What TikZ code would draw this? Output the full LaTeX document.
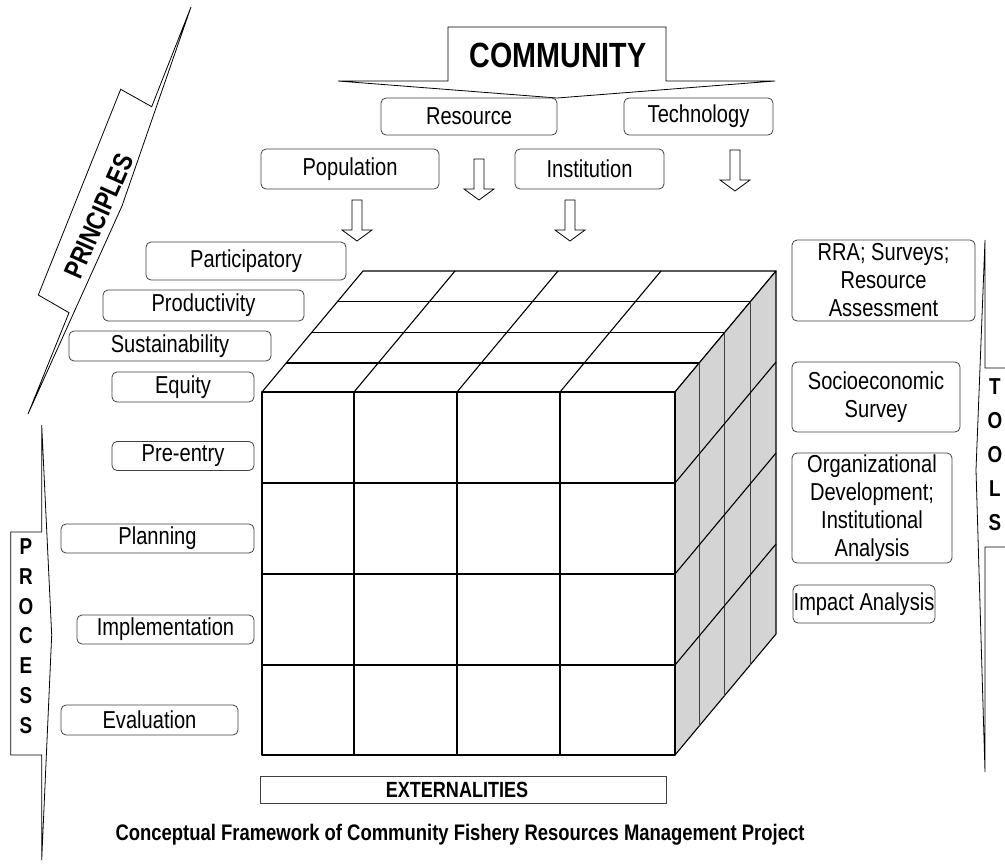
\documentclass[tikz,border=0pt]{standalone}
\usepackage{fontspec}
\setmainfont{Liberation Sans}[FakeStretch=0.82]
\begin{document}
\begin{tikzpicture}[x=1pt,y=-1pt,
  box/.style={draw=black!75, line width=0.8pt, rounded corners=5pt, inner sep=0pt, align=center, font=\fontsize{24.5}{28}\selectfont},
  plainbox/.style={draw=black!75, line width=0.8pt, inner sep=0pt, align=center},
  cubeline/.style={line width=1.1pt, line join=round},
  shapeline/.style={draw=black, line width=0.8pt, line join=miter},
  blockarrow/.pic={\draw[line width=0.8pt, fill=white] (-5,0) -- (5,0) -- (5,30) -- (15,30) -- (0,41) -- (-15,30) -- (-5,30) -- cycle;}
]
\useasboundingbox (0,0) rectangle (1005,865);

% ---------- COMMUNITY block arrow ----------
\draw[shapeline] (448,27) -- (666,27) -- (666,81) -- (775,81) -- (557,98) -- (338,81) -- (448,81) -- cycle;
\node[font=\fontsize{35}{38}\selectfont\bfseries] (community) at (558,55) {COMMUNITY};

% ---------- community components ----------
\node[box, minimum width=176, minimum height=37] (resource) at (469,116.5) {Resource};
\node[box, minimum width=149, minimum height=37] (technology) at (698.5,116.5) {Technology};
\node[box, minimum width=178, minimum height=40] (population) at (350,169) {Population};
\node[box, minimum width=149, minimum height=40] (institution) at (589.5,169) {Institution};

\pic at (479,159) {blockarrow};
\pic at (735,150) {blockarrow};
\pic at (357,200) {blockarrow};
\pic at (570,200) {blockarrow};

% ---------- PRINCIPLES callout ----------
\draw[shapeline] (191,7) -- (151.7,106.7) -- (120.7,89.3) -- (38.3,295) -- (69,312.7) -- (28,414) -- (122,206) -- cycle;
\node[rotate=66, font=\fontsize{27}{30}\selectfont\bfseries, inner sep=0pt] (principles) at (99,216) {PRINCIPLES};

\node[box, minimum width=200, minimum height=38] (participatory) at (246,261) {Participatory};
\node[box, minimum width=201, minimum height=31] (productivity) at (203.5,305.5) {Productivity};
\node[box, minimum width=202, minimum height=30] (sustainability) at (170,346) {Sustainability};
\node[box, minimum width=142, minimum height=30] (equity) at (183,387) {Equity};

% ---------- PROCESS callout ----------
\draw[shapeline] (41.7,425) -- (41.7,532) -- (10.7,532) -- (10.7,755) -- (41.7,755) -- (41.7,860) -- (51.7,635) -- cycle;
\node[font=\fontsize{23}{29.8}\selectfont\bfseries, align=center] (process) at (26,636) {P\\R\\O\\C\\E\\S\\S};

\node[box, minimum width=142, minimum height=29] (preentry) at (183,456) {Pre-entry};
\node[box, minimum width=193, minimum height=29] (planning) at (157.5,538.5) {Planning};
\node[box, minimum width=177, minimum height=29] (implementation) at (165.5,629.5) {Implementation};
\node[box, minimum width=177, minimum height=30] (evaluation) at (149.5,720) {Evaluation};

% ---------- TOOLS callout ----------
\draw[shapeline] (1010,368) -- (985,368) -- (985,240) -- (976,470) -- (985,772) -- (985,547) -- (1010,547);
\node[font=\fontsize{23}{34}\selectfont\bfseries, align=center] (tools) at (995,455) {T\\O\\O\\L\\S};

\node[box, minimum width=183, minimum height=81] (rra) at (883.5,280.5) {RRA; Surveys;\\Resource\\Assessment};
\node[box, minimum width=168, minimum height=70] (socio) at (876,397) {Socioeconomic\\Survey};
\node[box, minimum width=160, minimum height=110] (orgdev) at (872,508) {Organizational\\Development;\\Institutional\\Analysis};
\node[box, minimum width=142, minimum height=38] (impact) at (864,604) {Impact Analysis};

% ---------- cube ----------
% top face
\draw[cubeline, fill=white] (262,392) -- (363,271) -- (776,271) -- (675,392) -- cycle;
\draw[cubeline] (286.2,363) -- (699.2,363);
\draw[cubeline] (311.5,332.7) -- (724.5,332.7);
\draw[cubeline] (337.2,301.9) -- (750.2,301.9);
\draw[cubeline] (354,392) -- (455,271);
\draw[cubeline] (457,392) -- (558,271);
\draw[cubeline] (560,392) -- (661,271);
% right face
\draw[cubeline, fill=black!17] (675,392) -- (776,271) -- (776,634) -- (675,755) -- cycle;
\draw[cubeline, draw=black!75] (699.2,363) -- (699.2,726);
\draw[cubeline, draw=black!75] (724.5,332.7) -- (724.5,695.7);
\draw[cubeline, draw=black!75] (750.2,301.9) -- (750.2,664.9);
\draw[cubeline] (675,483) -- (776,362);
\draw[cubeline] (675,574) -- (776,453);
\draw[cubeline] (675,665) -- (776,544);
% front face
\draw[cubeline, fill=white] (262,392) rectangle (675,755);
\draw[cubeline] (354,392) -- (354,755);
\draw[cubeline] (457,392) -- (457,755);
\draw[cubeline] (560,392) -- (560,755);
\draw[cubeline] (262,483) -- (675,483);
\draw[cubeline] (262,574) -- (675,574);
\draw[cubeline] (262,665) -- (675,665);

% ---------- externalities and caption ----------
\node[plainbox, minimum width=406, minimum height=27, font=\fontsize{22}{24}\selectfont\bfseries] (externalities) at (463,789.5) {\hspace*{-12pt}EXTERNALITIES};
\node[font=\fontsize{22.5}{26}\selectfont\bfseries] (caption) at (460,835) {Conceptual Framework of Community Fishery Resources Management Project};
\end{tikzpicture}
\end{document}
